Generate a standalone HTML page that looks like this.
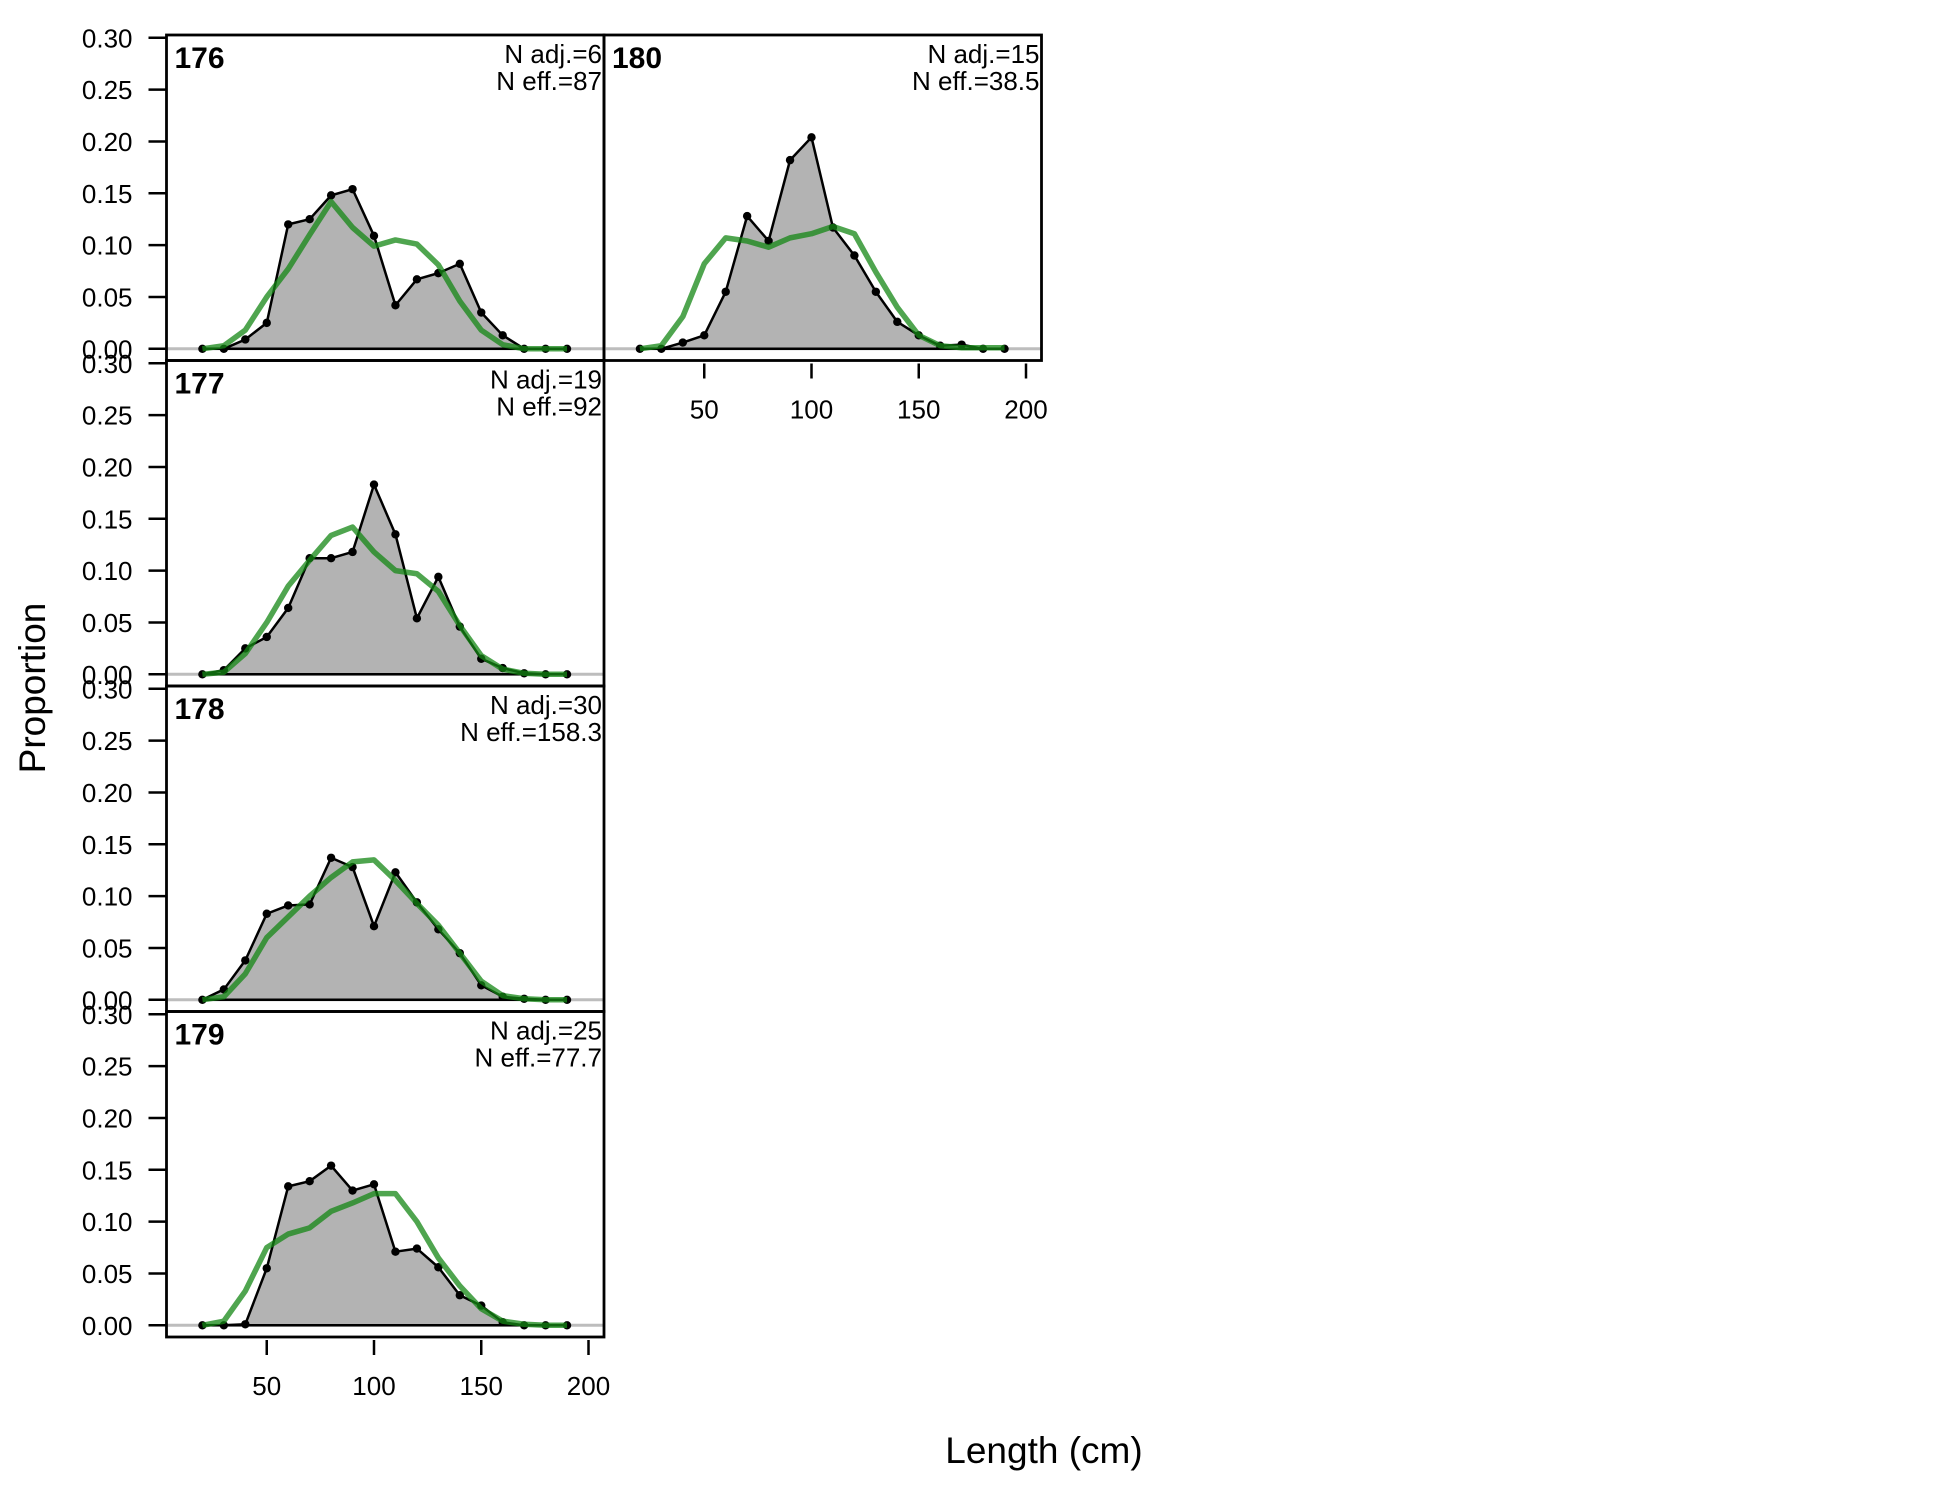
<!DOCTYPE html>
<html><head><meta charset="utf-8"><style>
html,body{margin:0;padding:0;background:#fff;}
svg{display:block;font-family:"Liberation Sans",Arial,sans-serif;}
</style></head><body>
<svg id="chart" width="1950" height="1500" viewBox="0 0 1950 1500">
<rect x="0" y="0" width="1950" height="1500" fill="#fff"/>
<text x="45" y="688" transform="rotate(-90 45 688)" text-anchor="middle" font-size="37">Proportion</text>
<text x="1044" y="1463" text-anchor="middle" font-size="37">Length (cm)</text>
</svg>
<script>
const lengths = [20,30,40,50,60,70,80,90,100,110,120,130,140,150,160,170,180,190];
const yTicks = [0,0.05,0.10,0.15,0.20,0.25,0.30];
const yTickLabels = ["0.00","0.05","0.10","0.15","0.20","0.25","0.30"];
const xTicks = [50,100,150,200];
const xTickLabels = ["50","100","150","200"];
const panelIds = ["176","177","178","179","180"];
const nAdj = ["6","19","30","25","15"];
const nEff = ["87","92","158.3","77.7","38.5"];
const obs176 = [0,0,0.009,0.025,0.12,0.125,0.148,0.154,0.109,0.042,0.067,0.073,0.082,0.035,0.013,0,0,0];
const exp176 = [0,0.003,0.018,0.05,0.077,0.11,0.142,0.117,0.099,0.105,0.101,0.081,0.046,0.018,0.004,0,0,0];
const obs177 = [0,0.004,0.025,0.036,0.064,0.112,0.112,0.118,0.183,0.135,0.054,0.094,0.046,0.015,0.006,0.001,0,0];
const exp177 = [0,0.002,0.02,0.05,0.085,0.11,0.134,0.142,0.118,0.1,0.097,0.08,0.047,0.018,0.005,0.001,0,0];
const obs178 = [0,0.01,0.038,0.083,0.091,0.092,0.137,0.128,0.071,0.123,0.094,0.068,0.045,0.014,0.003,0.001,0,0];
const exp178 = [0,0.003,0.025,0.06,0.08,0.1,0.118,0.133,0.135,0.115,0.093,0.072,0.045,0.018,0.004,0.001,0,0];
const obs179 = [0,0,0.001,0.055,0.134,0.139,0.154,0.13,0.136,0.071,0.074,0.056,0.029,0.019,0.003,0,0,0];
const exp179 = [0,0.004,0.033,0.075,0.088,0.094,0.11,0.118,0.127,0.127,0.1,0.065,0.038,0.016,0.004,0.001,0,0];
const obs180 = [0,0,0.006,0.013,0.055,0.128,0.104,0.182,0.204,0.117,0.09,0.055,0.026,0.013,0.003,0.004,0,0];
const exp180 = [0,0.003,0.031,0.082,0.107,0.104,0.098,0.107,0.111,0.118,0.111,0.074,0.04,0.013,0.003,0.001,0.001,0.001];

const obsAll = [obs176,obs177,obs178,obs179,obs180];
const expAll = [exp176,exp177,exp178,exp179,exp180];
const NS = "http://www.w3.org/2000/svg";
const svg = document.getElementById("chart");
const PW = 437.5, PH = 325.5;
const layout = [[166.5,35],[166.5,360.5],[166.5,686],[166.5,1011.5],[604,35]];
function mk(tag, attrs, parent){
  const e = document.createElementNS(NS, tag);
  for (const k in attrs) e.setAttribute(k, attrs[k]);
  (parent||svg).appendChild(e);
  return e;
}
layout.forEach((pos, i) => {
  const [L, T] = pos;
  const g = mk("g", {});
  
  
  const xs = v => L - 7 + v * 2.145;
  const ys = v => T + PH - 11.7 - v * 1036.7;
  // zero line
  const zl = mk("line", {x1:L, x2:L+PW, y1:ys(0), y2:ys(0), stroke:"#bdbdbd", "stroke-width":3}, g);
  
  
  const obs = obsAll[i], ex = expAll[i];
  let pts = lengths.map((l,j)=>xs(l)+","+ys(obs[j])).join(" ");
  const poly = mk("polygon", {points: xs(lengths[0])+","+ys(0)+" "+pts+" "+xs(lengths[lengths.length-1])+","+ys(0), fill:"#b3b3b3", stroke:"none"}, g);
  
  
  const base = mk("line", {x1:xs(lengths[0]), x2:xs(lengths[lengths.length-1]), y1:ys(0), y2:ys(0), stroke:"#000", "stroke-width":2.5}, g);
  
  
  const ol = mk("polyline", {points:pts, fill:"none", stroke:"#000", "stroke-width":2.5, "stroke-linejoin":"round"}, g);
  
  
  lengths.forEach((l,j)=>{
    const c = mk("circle", {cx:xs(l), cy:ys(obs[j]), r:4.2, fill:"#000"}, g);
    
    
  });
  const el = mk("polyline", {points: lengths.map((l,j)=>xs(l)+","+ys(ex[j])).join(" "), fill:"none", stroke:"rgba(20,135,20,0.75)", "stroke-width":5.5, "stroke-linejoin":"round"}, g);
  
  
  const box = mk("rect", {x:L, y:T, width:PW, height:PH, fill:"none", stroke:"#000", "stroke-width":2.8}, g);
  
  
  const t1 = mk("text", {x:L+8, y:T+33, "font-size":30, "font-weight":"bold"}, g);
  t1.textContent = panelIds[i];
  
  
  const t2 = mk("text", {x:L+PW-2, y:T+28, "font-size":26, "text-anchor":"end"}, g);
  t2.textContent = "N adj.=" + nAdj[i];
  
  
  const t3 = mk("text", {x:L+PW-2, y:T+55, "font-size":26, "text-anchor":"end"}, g);
  t3.textContent = "N eff.=" + nEff[i];
  
  
  if (L < 300) {
    yTicks.forEach((v,k)=>{
      const tk = mk("line", {x1:L-18, x2:L, y1:ys(v), y2:ys(v), stroke:"#000", "stroke-width":2.5}, g);
      
      
      const tl = mk("text", {x:L-34, y:ys(v)+9.5, "font-size":26, "text-anchor":"end"}, g);
      tl.textContent = yTickLabels[k];
      
      
    });
  }
  if (i === 3 || i === 4) {
    xTicks.forEach((v,k)=>{
      const tk = mk("line", {x1:xs(v), x2:xs(v), y1:T+PH+3, y2:T+PH+18, stroke:"#000", "stroke-width":2.5}, g);
      
      
      const tl = mk("text", {x:xs(v), y:T+PH+58, "font-size":26, "text-anchor":"middle"}, g);
      tl.textContent = xTickLabels[k];
      
      
    });
  }
});
</script>
</body></html>
